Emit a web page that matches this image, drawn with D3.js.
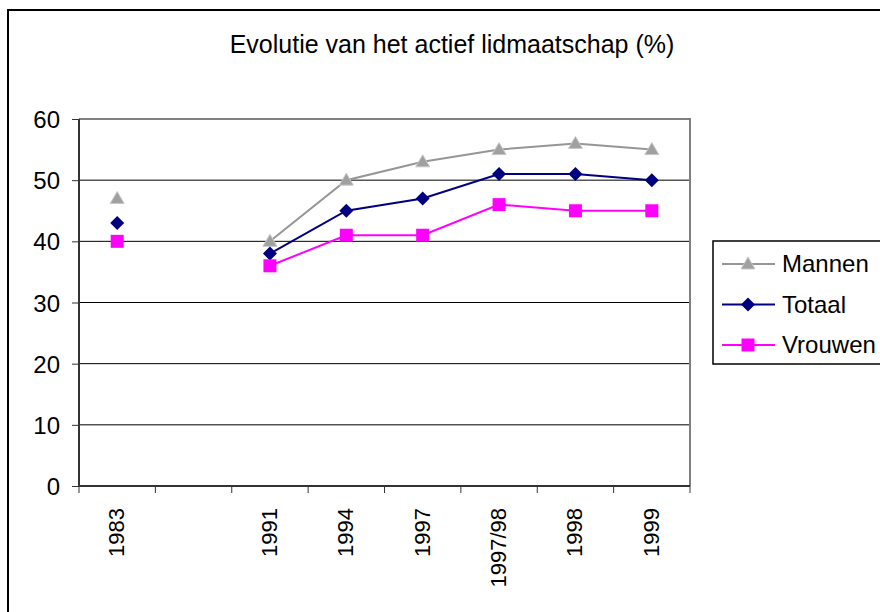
<!DOCTYPE html>
<html>
<head>
<meta charset="utf-8">
<script src="https://cdn.jsdelivr.net/npm/d3@7"></script>
<style>
  body { margin: 0; background: #fff; }
  text { font-family: "Liberation Sans", Arial, sans-serif; fill: #000; }
</style>
</head>
<body>
<div id="chart"></div>
<script>
// categories on the x axis (one empty slot between 1983 and 1991)
var categories = ["1983", "", "1991", "1994", "1997", "1997/98", "1998", "1999"];
var mannen  = [47, null, 40, 50, 53, 55, 56, 55];
var totaal  = [43, null, 38, 45, 47, 51, 51, 50];
var vrouwen = [40, null, 36, 41, 41, 46, 45, 45];
var yTicks = [0, 10, 20, 30, 40, 50, 60];

var series = [
  { name: "Mannen", values: mannen, color: "#969696", marker: "triangle" },
  { name: "Totaal", values: totaal, color: "#000080", marker: "diamond" },
  { name: "Vrouwen", values: vrouwen, color: "#FF00FF", marker: "square" }
];

var svgWidth = 880;
var svgHeight = 612;

// plot area
var margin = { top: 119, right: 190, bottom: 126, left: 79 };
var chartWidth = svgWidth - margin.left - margin.right;
var chartHeight = svgHeight - margin.top - margin.bottom;

var svg = d3.select("#chart")
  .append("svg")
  .attr("width", svgWidth)
  .attr("height", svgHeight);

// outer frame
svg.append("rect")
  .attr("x", 8).attr("y", 10)
  .attr("width", 900).attr("height", 700)
  .attr("fill", "none")
  .attr("stroke", "#000")
  .attr("stroke-width", 2);

svg.append("text")
  .attr("x", 452)
  .attr("y", 53)
  .attr("text-anchor", "middle")
  .attr("font-size", "25px")
  .text("Evolutie van het actief lidmaatschap (%)");

var chartGroup = svg.append("g")
  .attr("transform", "translate(" + margin.left + "," + margin.top + ")");

var xScale = d3.scaleBand()
  .domain(d3.range(categories.length))
  .range([0, chartWidth]);

var yScale = d3.scaleLinear()
  .domain([0, 60])
  .range([chartHeight, 0]);

// gridlines
chartGroup.selectAll(".grid")
  .data(yTicks.filter(function(d) { return d > 0 && d < 60; }))
  .enter()
  .append("line")
  .attr("x1", 0).attr("x2", chartWidth)
  .attr("y1", function(d) { return yScale(d); })
  .attr("y2", function(d) { return yScale(d); })
  .attr("stroke", "#000")
  .attr("stroke-width", 1);

// plot area border (top + right)
chartGroup.append("path")
  .attr("d", "M0," + yScale(60) + "H" + chartWidth + "V" + chartHeight)
  .attr("fill", "none")
  .attr("stroke", "#808080")
  .attr("stroke-width", 2);

// y axis
var leftAxis = d3.axisLeft(yScale).tickValues(yTicks).tickSize(7).tickPadding(12);
var yAxisG = chartGroup.append("g").call(leftAxis);
yAxisG.select(".domain").attr("stroke", "#333").attr("stroke-width", 2)
  .attr("d", "M0," + chartHeight + "V0");
yAxisG.selectAll(".tick line").attr("stroke", "#333");
yAxisG.selectAll(".tick text")
  .attr("font-size", "24px")
  .attr("font-family", "Liberation Sans, Arial, sans-serif")
  .attr("dy", "0.36em");

// x axis with ticks at band boundaries
var xAxisG = chartGroup.append("g")
  .attr("transform", "translate(0," + chartHeight + ")");
xAxisG.append("line")
  .attr("x1", 0).attr("x2", chartWidth)
  .attr("stroke", "#333").attr("stroke-width", 2);
xAxisG.selectAll(".xtick")
  .data(d3.range(categories.length + 1))
  .enter()
  .append("line")
  .attr("x1", function(i) { return i * xScale.bandwidth(); })
  .attr("x2", function(i) { return i * xScale.bandwidth(); })
  .attr("y1", 0).attr("y2", 7)
  .attr("stroke", "#333");
xAxisG.selectAll(".xlabel")
  .data(categories)
  .enter()
  .append("text")
  .attr("transform", function(d, i) {
    return "translate(" + (xScale(i) + xScale.bandwidth() / 2 + 7) + ",22) rotate(-90)";
  })
  .attr("text-anchor", "end")
  .attr("font-size", "22px")
  .text(function(d) { return d; });

var line = d3.line()
  .defined(function(d) { return d != null; })
  .x(function(d, i) { return xScale(i) + xScale.bandwidth() / 2; })
  .y(function(d) { return yScale(d); });

function markerPath(type) {
  if (type === "triangle") return "M0,-7L7,5H-7Z";
  if (type === "diamond") return "M0,-7L7,0L0,7L-7,0Z";
  return "M-6.5,-6.5H6.5V6.5H-6.5Z";
}

series.forEach(function(s) {
  chartGroup.append("path")
    .datum(s.values)
    .attr("d", line)
    .attr("fill", "none")
    .attr("stroke", s.color)
    .attr("stroke-width", 2);

  chartGroup.selectAll(".pt-" + s.name)
    .data(s.values.map(function(v, i) { return { v: v, i: i }; })
      .filter(function(d) { return d.v != null; }))
    .enter()
    .append("path")
    .attr("transform", function(d) {
      return "translate(" + (xScale(d.i) + xScale.bandwidth() / 2) + "," + yScale(d.v) + ")";
    })
    .attr("d", markerPath(s.marker))
    .attr("fill", s.marker === "triangle" ? "#A0A0A0" : s.color)
    .attr("stroke", s.marker === "triangle" ? "#C8C8C8" : "none")
    .attr("stroke-width", 1);
});

// legend
var legend = svg.append("g").attr("transform", "translate(713,241)");
legend.append("rect")
  .attr("width", 200).attr("height", 123)
  .attr("fill", "#fff")
  .attr("stroke", "#000")
  .attr("stroke-width", 1.5);

series.forEach(function(s, i) {
  var g = legend.append("g").attr("transform", "translate(0," + (23 + i * 40.5) + ")");
  g.append("line")
    .attr("x1", 9).attr("x2", 62)
    .attr("stroke", s.color).attr("stroke-width", 2);
  g.append("path")
    .attr("transform", "translate(35,0)")
    .attr("d", markerPath(s.marker))
    .attr("fill", s.marker === "triangle" ? "#A0A0A0" : s.color)
    .attr("stroke", s.marker === "triangle" ? "#C8C8C8" : "none");
  g.append("text")
    .attr("x", 69)
    .attr("y", 0)
    .attr("dy", "0.35em")
    .attr("font-size", "24px")
    .text(s.name);
});
</script>
</body>
</html>
